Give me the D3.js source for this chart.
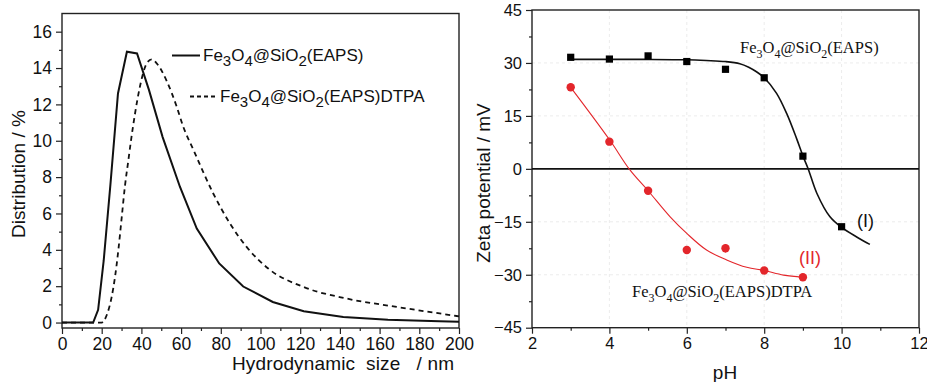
<!DOCTYPE html>
<html><head><meta charset="utf-8">
<script src="https://cdn.jsdelivr.net/npm/d3@7/dist/d3.min.js"></script>
<style>
html,body{margin:0;padding:0;background:#fff;}
svg{display:block;}
text{font-family:"Liberation Sans",Arial,sans-serif;fill:#111;}
text.serif, text.serif tspan{font-family:"Liberation Serif","Times New Roman",serif;}
</style></head>
<body>
<svg id="chart" width="927" height="382"></svg>
<script>
// ---------- Data: left panel (DLS size distribution) ----------
const sizeTicks = [0,20,40,60,80,100,120,140,160,180,200];
const distTicks = [0,2,4,6,8,10,12,14,16];
const eapsSize = [0,15.7,18.2,21.0,24.4,28.2,32.7,37.8,43.8,50.7,59.4,67.9,79.2,91.3,106.2,121.8,141.7,164.2,190.1,200];
const eapsDist = [0,0,0.7,3.4,7.6,12.6,14.9,14.8,12.8,10.2,7.47,5.17,3.25,1.98,1.13,0.62,0.31,0.15,0.07,0.05];
const dtpaSize = [0,20,22.5,25,26.7,28.4,30.1,31.7,33.4,35,36.8,39.3,42.7,45.2,47.7,52.7,57.8,61,66.2,76.2,84.6,93,103.9,121.6,143.4,168.6,198.8,200];
const dtpaDist = [0,0,0.4,1.4,2.5,4.0,5.8,7.5,8.9,10.2,11.5,13.0,14.26,14.48,14.26,13.3,11.87,10.8,9.5,7.1,5.45,4.16,2.97,1.96,1.32,0.86,0.36,0.34];
const legendNames = ["Fe3O4@SiO2(EAPS)","Fe3O4@SiO2(EAPS)DTPA"];

// ---------- Data: right panel (zeta potential) ----------
const pHTicks = [2,4,6,8,10,12];
const zetaTicks = [-45,-30,-15,0,15,30,45];
const pH1 = [3,4,5,6,7,8,9,10];
const zeta1 = [31.6,31.1,32.0,30.4,28.2,25.8,3.6,-16.4];
const pH2 = [3,4,5,6,7,8,9];
const zeta2 = [23.1,7.7,-6.2,-23.0,-22.5,-28.8,-30.7];
const zeta2Err = [0,0,0,0,1.2,0,0];
// fitted curves
const fit1pH = [3,4,5,6,6.5,7,7.37,7.6,7.8,8.0,8.32,8.58,8.84,9.01,9.14,9.36,9.7,10.0,10.39,10.73];
const fit1Z  = [31,31,31,30.9,30.7,30.4,29.8,28.8,27.5,25.8,21.4,15.7,8.5,3.4,-0.1,-6.9,-13.6,-16.6,-19.3,-21.4];
const fit2pH = [3,4,4.53,5,5.57,6,6.51,7.03,7.55,8,8.5,9];
const fit2Z  = [23.1,8.3,-0.3,-6.2,-13.6,-18.3,-23.0,-25.8,-27.9,-28.8,-30.1,-30.7];

const RED = "#e3262b";
const svg = d3.select("#chart");

// subscript helper
function chem(sel, str, size, subSize){
  const re = /([A-Za-z@()]+)|(\d+)/g;
  let m, shifted=false;
  while((m = re.exec(str))){
    if(m[1]){
      const t = sel.append("tspan").text(m[1]).attr("font-size", size);
      if(shifted){ t.attr("dy", -size*0.3); shifted=false; }
    } else {
      sel.append("tspan").text(m[2]).attr("font-size", subSize).attr("dy", shifted?0:size*0.3);
      shifted=true;
    }
  }
}

function styleAxis(g, fs){
  g.select(".domain").remove();
  g.selectAll(".tick line").attr("stroke","#222").attr("stroke-width",1.2);
  g.selectAll(".tick text").attr("font-size",fs).attr("fill","#111");
}

// ================= LEFT PANEL =================
const xL = d3.scaleLinear().domain([0,200]).range([62,459]);
const yL = d3.scaleLinear().domain([-0.3,17]).range([328,13.5]);
const gL = svg.append("g");

gL.append("g").attr("transform","translate(0,328)")
  .call(d3.axisBottom(xL).tickValues(d3.range(10,200,20)).tickSize(3).tickFormat(""))
  .call(g=>styleAxis(g,17));
gL.append("g").attr("transform","translate(62,0)")
  .call(d3.axisLeft(yL).tickValues(d3.range(1,17,2)).tickSize(3).tickFormat(""))
  .call(g=>styleAxis(g,17));
gL.append("g").attr("transform","translate(0,328)")
  .call(d3.axisBottom(xL).tickValues(sizeTicks).tickSize(6).tickPadding(4).tickFormat(d3.format("d")))
  .call(g=>styleAxis(g,17.5));
gL.append("g").attr("transform","translate(62,0)")
  .call(d3.axisLeft(yL).tickValues(distTicks).tickSize(6).tickPadding(4).tickFormat(d3.format("d")))
  .call(g=>styleAxis(g,17.5));
gL.append("rect").attr("x",62).attr("y",13.5).attr("width",397).attr("height",314.5)
  .attr("fill","none").attr("stroke","#222").attr("stroke-width",1.4);

const lineL = d3.line().x(d=>xL(d[0])).y(d=>yL(d[1]));
gL.append("path").datum(eapsSize.map((s,i)=>[s,eapsDist[i]]))
  .attr("d",lineL).attr("fill","none").attr("stroke","#111").attr("stroke-width",2);
gL.append("path").datum(dtpaSize.map((s,i)=>[s,dtpaDist[i]]))
  .attr("d",lineL.curve(d3.curveMonotoneX)).attr("fill","none").attr("stroke","#111")
  .attr("stroke-width",1.8).attr("stroke-dasharray","5,4");

// legend
gL.append("line").attr("x1",172).attr("x2",200).attr("y1",55.5).attr("y2",55.5).attr("stroke","#111").attr("stroke-width",2);
chem(gL.append("text").attr("x",203).attr("y",61), legendNames[0], 17, 15);
gL.append("line").attr("x1",190).attr("x2",218).attr("y1",96.5).attr("y2",96.5).attr("stroke","#111").attr("stroke-width",1.8).attr("stroke-dasharray","4,3");
chem(gL.append("text").attr("x",220).attr("y",102), legendNames[1], 17, 15);

// axis titles
gL.append("text").attr("x",232).attr("y",370).attr("font-size",19).style("white-space","pre")
  .attr("textLength",222).attr("lengthAdjust","spacing")
  .text("Hydrodynamic  size   / nm");
gL.append("text").attr("transform","translate(25,174) rotate(-90)").attr("text-anchor","middle")
  .attr("font-size",19).text("Distribution / %");

// ================= RIGHT PANEL =================
const xR = d3.scaleLinear().domain([2,12]).range([532,919]);
const yR = d3.scaleLinear().domain([-45,45]).range([327.7,10]);
const gR = svg.append("g");

// faint grid
gR.append("g").selectAll("line").data(zetaTicks.filter(v=>v>-45&&v<45&&v!==0)).join("line")
  .attr("x1",532).attr("x2",919).attr("y1",d=>yR(d)).attr("y2",d=>yR(d))
  .attr("stroke","#ececec").attr("stroke-width",1).attr("stroke-dasharray","3,3");
gR.append("g").selectAll("line").data(pHTicks.filter(v=>v>2&&v<12)).join("line")
  .attr("y1",10).attr("y2",327.7).attr("x1",d=>xR(d)).attr("x2",d=>xR(d))
  .attr("stroke","#ececec").attr("stroke-width",1).attr("stroke-dasharray","3,3");

gR.append("g").attr("transform","translate(0,327.7)")
  .call(d3.axisBottom(xR).tickValues(d3.range(3,12,2)).tickSize(3).tickFormat(""))
  .call(g=>styleAxis(g,16));
gR.append("g").attr("transform","translate(532,0)")
  .call(d3.axisLeft(yR).tickValues(d3.range(-37.5,45,15)).tickSize(3).tickFormat(""))
  .call(g=>styleAxis(g,16));
gR.append("g").attr("transform","translate(0,327.7)")
  .call(d3.axisBottom(xR).tickValues(pHTicks).tickSize(6).tickPadding(4).tickFormat(d3.format("d")))
  .call(g=>styleAxis(g,16.5));
gR.append("g").attr("transform","translate(532,0)")
  .call(d3.axisLeft(yR).tickValues(zetaTicks).tickSize(6).tickPadding(4).tickFormat(d3.format("d")))
  .call(g=>styleAxis(g,16.5));
gR.append("rect").attr("x",532).attr("y",10).attr("width",387).attr("height",317.7)
  .attr("fill","none").attr("stroke","#222").attr("stroke-width",1.4);
gR.append("line").attr("x1",532).attr("x2",919).attr("y1",yR(0)).attr("y2",yR(0))
  .attr("stroke","#111").attr("stroke-width",1.6);

const lineR = d3.line().x(d=>xR(d[0])).y(d=>yR(d[1])).curve(d3.curveCatmullRom.alpha(0.5));
gR.append("path").datum(fit1pH.map((p,i)=>[p,fit1Z[i]]))
  .attr("d",lineR).attr("fill","none").attr("stroke","#111").attr("stroke-width",1.6);
gR.append("path").datum(fit2pH.map((p,i)=>[p,fit2Z[i]]))
  .attr("d",lineR).attr("fill","none").attr("stroke",RED).attr("stroke-width",1.1);

// error bars
gR.append("g").selectAll("line").data(pH2.map((p,i)=>[p,zeta2[i],zeta2Err[i]]).filter(d=>d[2]>0)).join("line")
  .attr("x1",d=>xR(d[0])).attr("x2",d=>xR(d[0])).attr("y1",d=>yR(d[1]-d[2])).attr("y2",d=>yR(d[1]+d[2]))
  .attr("stroke",RED).attr("stroke-width",1.2);
// markers
gR.append("g").selectAll("rect").data(pH1.map((p,i)=>[p,zeta1[i]])).join("rect")
  .attr("x",d=>xR(d[0])-3.6).attr("y",d=>yR(d[1])-3.6).attr("width",7.2).attr("height",7.2).attr("fill","#000");
gR.append("g").selectAll("circle").data(pH2.map((p,i)=>[p,zeta2[i]])).join("circle")
  .attr("cx",d=>xR(d[0])).attr("cy",d=>yR(d[1])).attr("r",4.2).attr("fill",RED);

// labels
chem(gR.append("text").attr("class","serif").attr("x",740).attr("y",53), legendNames[0], 16.5, 12);
chem(gR.append("text").attr("class","serif").attr("x",632).attr("y",297), legendNames[1], 16.5, 12);
gR.append("text").attr("x",857).attr("y",226.5).attr("font-size",18).text("(I)");
gR.append("text").attr("x",799).attr("y",263.5).attr("font-size",18).style("fill",RED).text("(II)");

gR.append("text").attr("x",725).attr("y",379).attr("text-anchor","middle").attr("font-size",19).text("pH");
gR.append("text").attr("transform","translate(490,183) rotate(-90)").attr("text-anchor","middle")
  .attr("font-size",19).text("Zeta potential / mV");
</script>
</body></html>
